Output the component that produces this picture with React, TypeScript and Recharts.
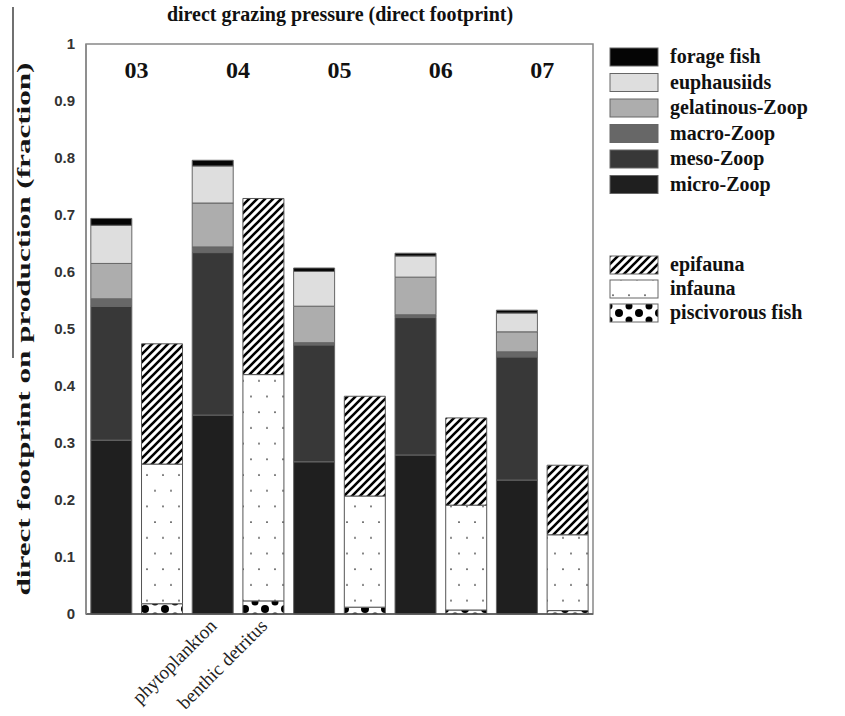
import React from 'react';
import { BarChart, Bar, XAxis, YAxis, Legend, LabelList, ReferenceArea } from 'recharts';

// one phytoplankton bar and one benthic detritus bar per year
const years = ['03', '04', '05', '06', '07'];
const categories = years.flatMap((y) => [`${y} phyto`, `${y} benthic`]);
const xLabels = ['', '', 'phytoplankton', 'benthic detritus', '', '', '', '', '', ''];
const yTicks = [0, 0.1, 0.2, 0.3, 0.4, 0.5, 0.6, 0.7, 0.8, 0.9, 1];

// grazers on phytoplankton
const microZoop = [0.305, null, 0.349, null, 0.267, null, 0.279, null, 0.235, null];
const mesoZoop = [0.235, null, 0.285, null, 0.205, null, 0.241, null, 0.216, null];
const macroZoop = [0.013, null, 0.01, null, 0.004, null, 0.005, null, 0.009, null];
const gelatinousZoop = [0.062, null, 0.077, null, 0.064, null, 0.066, null, 0.035, null];
const euphausiids = [0.067, null, 0.065, null, 0.061, null, 0.037, null, 0.033, null];
const forageFish = [0.012, null, 0.01, null, 0.006, null, 0.005, null, 0.005, null];

// grazers on benthic detritus
const piscivorousFish = [null, 0.018, null, 0.023, null, 0.012, null, 0.007, null, 0.006];
const infauna = [null, 0.245, null, 0.397, null, 0.195, null, 0.184, null, 0.133];
const epifauna = [null, 0.211, null, 0.309, null, 0.175, null, 0.153, null, 0.122];

const data = categories.map((cat, i) => ({
  cat,
  micro: microZoop[i],
  meso: mesoZoop[i],
  macro: macroZoop[i],
  gel: gelatinousZoop[i],
  euph: euphausiids[i],
  forage: forageFish[i],
  pisc: piscivorousFish[i],
  infauna: infauna[i],
  epifauna: epifauna[i],
}));

// stacking order, bottom to top
const phytoSeries = [
  { key: 'micro', name: 'micro-Zoop', fill: '#1f1f1f' },
  { key: 'meso', name: 'meso-Zoop', fill: '#383838' },
  { key: 'macro', name: 'macro-Zoop', fill: '#676767' },
  { key: 'gel', name: 'gelatinous-Zoop', fill: '#adadad' },
  { key: 'euph', name: 'euphausiids', fill: '#dedede' },
  { key: 'forage', name: 'forage fish', fill: '#050505' },
];
const benthicSeries = [
  { key: 'pisc', name: 'piscivorous fish', fill: 'url(#pat-pisc)' },
  { key: 'infauna', name: 'infauna', fill: 'url(#pat-infauna)' },
  { key: 'epifauna', name: 'epifauna', fill: 'url(#pat-epi)' },
];

const serif = '"Liberation Serif", "Times New Roman", serif';
const sans = '"Liberation Sans", Arial, sans-serif';

const CategoryTick = (props: any) => {
  const { x, y, index } = props;
  const label = xLabels[index];
  if (!label) return <g />;
  const ax = x + 5;
  const ay = y + 5;
  return (
    <text
      x={ax}
      y={ay}
      transform={`rotate(-45, ${ax}, ${ay})`}
      textAnchor="end"
      fontFamily={serif}
      fontSize={19}
      fill="#222"
    >
      {label}
    </text>
  );
};

// year sits between the two bars of its pair
const YearLabel = (props: any) => {
  const { x, width, value } = props;
  if (typeof value !== 'string') return null;
  return (
    <text
      x={x + width + 4.8}
      y={78}
      textAnchor="middle"
      fontFamily={serif}
      fontWeight="bold"
      fontSize={24}
      fill="#111"
    >
      {value.split(' ')[0]}
    </text>
  );
};

const YTitle = () => (
  <g>
    <line x1={13} y1={7} x2={13} y2={358} stroke="#111" strokeWidth={1.2} />
    <text
      transform="translate(30, 329) rotate(-90)"
      textAnchor="middle"
      fontFamily={serif}
      fontWeight="bold"
      fontSize={19}
      fill="#151515"
      textLength={533}
      lengthAdjust="spacingAndGlyphs"
    >
      direct footprint on production (fraction)
    </text>
  </g>
);

const LegendBox = () => {
  const rowsA = [...phytoSeries].reverse().map((s, i) => ({ ...s, cy: 17 + i * 25.5 }));
  const rowsB = [...benthicSeries].reverse().map((s, i) => ({ ...s, cy: 225 + i * 24 }));
  return (
    <svg width={240} height={300}>
      {[...rowsA, ...rowsB].map((r) => (
        <g key={r.key}>
          <rect x={16} y={r.cy - 9} width={48} height={18} fill={r.fill} stroke="#666" strokeWidth={1} />
          <text
            x={76}
            y={r.cy + 6}
            fontFamily={serif}
            fontWeight="bold"
            fontSize={20}
            fill="#111"
          >
            {r.name}
          </text>
        </g>
      ))}
    </svg>
  );
};

export default function App() {
  return (
    <div style={{ position: 'absolute', left: 0, top: 0, width: 845, height: 716, background: '#fff' }}>
      <svg
        width={845}
        height={40}
        style={{ position: 'absolute', left: 0, top: 0, pointerEvents: 'none' }}
      >
        <text
          x={340}
          y={21}
          textAnchor="middle"
          fontFamily={serif}
          fontWeight="bold"
          fontSize={20}
          fill="#111"
        >
          direct grazing pressure (direct footprint)
        </text>
      </svg>
      <BarChart
        width={845}
        height={716}
        data={data}
        margin={{ top: 44, right: 12, bottom: 12, left: 30 }}
        barCategoryGap="9.5%"
      >
        <defs>
          <pattern id="pat-epi" patternUnits="userSpaceOnUse" width={8} height={8}>
            <rect width={8} height={8} fill="#fff" />
            <path d="M-2,2 L2,-2 M0,8 L8,0 M6,10 L10,6" stroke="#000" strokeWidth={2.6} />
          </pattern>
          <pattern id="pat-infauna" patternUnits="userSpaceOnUse" width={16} height={31.4}>
            <rect width={16} height={31.4} fill="#fff" />
            <circle cx={3} cy={4} r={0.9} fill="#333" />
            <circle cx={11} cy={19.7} r={0.9} fill="#333" />
          </pattern>
          <pattern id="pat-pisc" patternUnits="userSpaceOnUse" width={20} height={14}>
            <rect width={20} height={14} fill="#fff" />
            <circle cx={5} cy={7} r={4} fill="#000" />
            <circle cx={15} cy={0} r={3.5} fill="#000" />
            <circle cx={15} cy={14} r={3.5} fill="#000" />
          </pattern>
        </defs>
        <XAxis
          dataKey="cat"
          height={90}
          interval={0}
          tickLine={false}
          axisLine={{ stroke: '#555', strokeWidth: 1.5 }}
          tick={<CategoryTick />}
        />
        <YAxis
          width={56}
          domain={[0, 1]}
          ticks={yTicks}
          tickLine={false}
          tickSize={6}
          tickMargin={5}
          axisLine={{ stroke: '#888', strokeWidth: 1.5 }}
          tick={{ fontFamily: sans, fontWeight: 'bold', fontSize: 15, fill: '#333' }}
          tickFormatter={(v: number) => String(Math.round(v * 10) / 10)}
          label={<YTitle />}
        />
        <ReferenceArea
          x1={categories[0]}
          x2={categories[categories.length - 1]}
          y1={0}
          y2={1}
          fill="none"
          stroke="#888"
          strokeWidth={1.5}
        />
        {phytoSeries.map((s) => (
          <Bar
            key={s.key}
            dataKey={s.key}
            name={s.name}
            stackId="a"
            fill={s.fill}
            stroke="#666"
            strokeWidth={1}
            isAnimationActive={false}
          >
            {s.key === 'micro' && <LabelList dataKey="cat" content={<YearLabel />} />}
          </Bar>
        ))}
        {benthicSeries.map((s) => (
          <Bar
            key={s.key}
            dataKey={s.key}
            name={s.name}
            stackId="a"
            fill={s.fill}
            stroke="#555"
            strokeWidth={1}
            isAnimationActive={false}
          />
        ))}
        <Legend
          layout="vertical"
          verticalAlign="top"
          align="right"
          content={<LegendBox />}
          wrapperStyle={{ position: 'absolute', left: 594, top: 40, width: 240 }}
        />
      </BarChart>
    </div>
  );
}
